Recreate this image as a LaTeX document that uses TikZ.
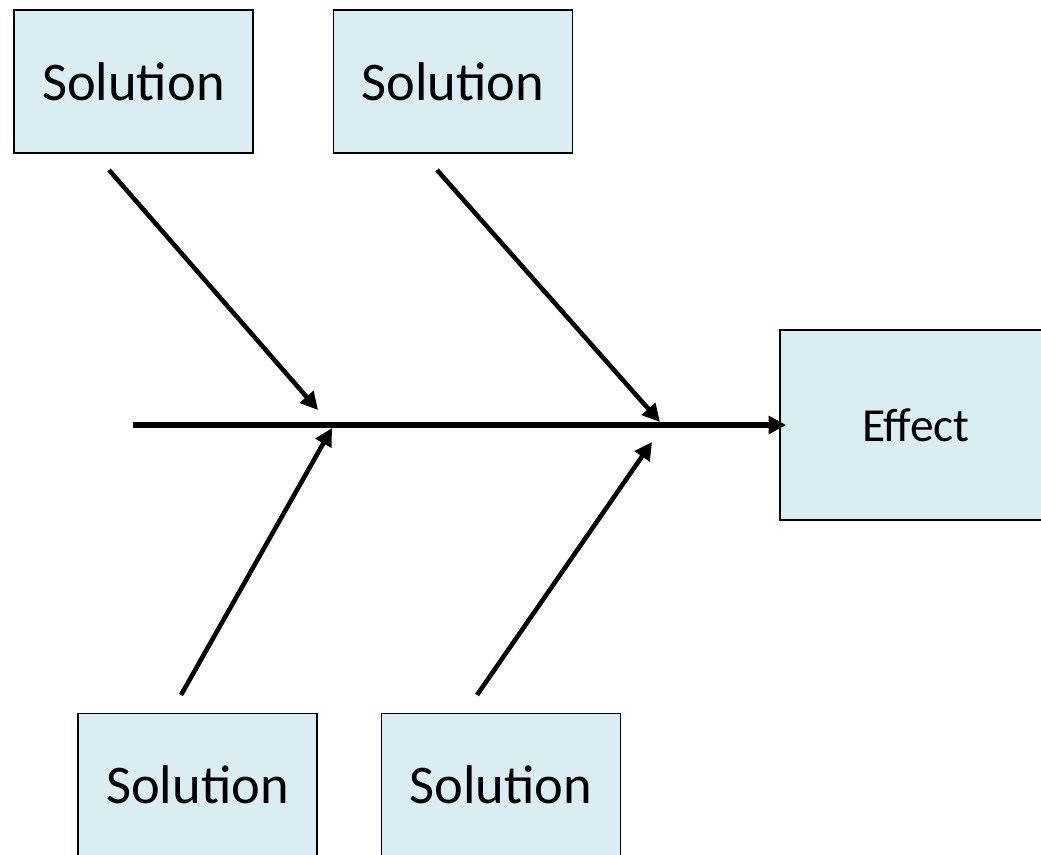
\documentclass[tikz,border=0pt]{standalone}
\usepackage{fontspec}
\setmainfont{Carlito}
\usetikzlibrary{arrows.meta,positioning}
\definecolor{boxblue}{HTML}{DAEDF3}

\begin{document}
\begin{tikzpicture}[
    box/.style={rectangle, draw, fill=boxblue, line width=1pt, minimum width=4.78cm, minimum height=2.86cm, align=center, font=\fontsize{31}{37}\selectfont},
    bone/.style={-{Triangle[length=10pt,width=10pt]}, line width=2.6pt},
    spine/.style={-{Triangle[length=10pt,width=10pt]}, line width=3.1pt}
]
\useasboundingbox (0,0) rectangle (20.82,17.08);
\node[box] (sol1) at (2.67,15.45) {Solution};
\node[box] (sol2) at (9.06,15.45) {Solution};
\node[box] (sol3) at (3.95,1.38) {Solution};
\node[box] (sol4) at (10.02,1.38) {Solution};
\node[box, minimum width=5.44cm, minimum height=3.8cm, font=\fontsize{27}{32}\selectfont] (eff) at (18.32,8.58) {Effect};

\coordinate (tail) at (2.66,8.58);
\coordinate (a1) at (2.18,13.68);
\coordinate (b1) at (6.36,8.88);
\coordinate (a2) at (8.74,13.68);
\coordinate (b2) at (13.2,8.64);
\coordinate (a3) at (3.62,3.18);
\coordinate (b3) at (6.64,8.52);
\coordinate (a4) at (9.54,3.18);
\coordinate (b4) at (13.04,8.24);

\draw[spine, shorten >=-0.14cm] (tail) -- (eff.west);
\draw[bone] (a1) -- (b1);
\draw[bone] (a2) -- (b2);
\draw[bone] (a3) -- (b3);
\draw[bone] (a4) -- (b4);
\end{tikzpicture}
\end{document}
